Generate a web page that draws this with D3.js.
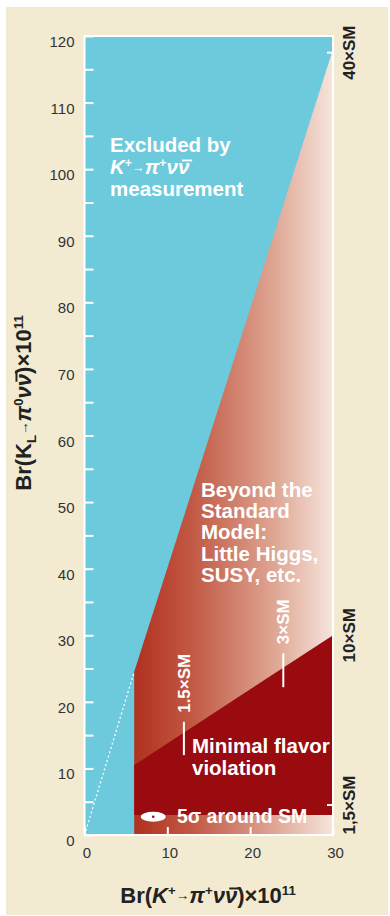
<!DOCTYPE html>
<html>
<head>
<meta charset="utf-8">
<script src="https://cdn.jsdelivr.net/npm/d3@7"></script>
<style>
  body { margin: 0; background: #fff; }
  svg { display: block; font-family: "Liberation Sans", Arial, Helvetica, sans-serif; }
</style>
</head>
<body>
<div id="chart"></div>
<script>
// values (units of 10^-11)
var xTicks = [0, 10, 20, 30];
var yTicks = [0, 5, 10, 15, 20, 25, 30, 35, 40, 45, 50, 55, 60, 65, 70, 75, 80, 85, 90, 95, 100, 105, 110, 115, 120];
var yLabels = [0, 10, 20, 30, 40, 50, 60, 70, 80, 90, 100, 110, 120];

// Grossman-Nir style bound, K+ measured lower limit at 6
var gnBound = [{x: 0, y: 0}, {x: 6, y: 24.5}, {x: 30, y: 118}];
var bsmRegion = [{x: 6, y: 0}, {x: 6, y: 24.5}, {x: 30, y: 118}, {x: 30, y: 0}];
var mfvRegion = [{x: 6, y: 3}, {x: 6, y: 10.5}, {x: 30, y: 30}, {x: 30, y: 3}];
var smPoint = {x: 8.3, y: 2.75, sx: 1.5, sy: 0.75};

// multiples of SM on the K+ axis (marks inside) and the KL axis (right side)
var kPlusMarks = [
  {label: "1.5\u00d7SM", x: 12, y0: 12, y1: 17},
  {label: "3\u00d7SM", x: 24, y0: 22.2, y1: 27.3}
];
var kLMarks = [
  {label: "40\u00d7SM", y: 117.5, tick: true},
  {label: "10\u00d7SM", y: 30, tick: false},
  {label: "1,5\u00d7SM", y: 4.5, tick: true}
];

var width = 390, height = 916;

var svg = d3.select("#chart")
  .append("svg")
    .attr("width", width)
    .attr("height", height);

var x = d3.scaleLinear().domain([0, 30]).range([84.5, 333]);
var y = d3.scaleLinear().domain([0, 120]).range([835, 36]);

// beige panel
svg.append("rect")
  .attr("x", 6).attr("y", 7)
  .attr("width", 382).attr("height", 908)
  .attr("fill", "#f2ebd2");

var defs = svg.append("defs");
var grad = defs.append("linearGradient")
  .attr("id", "bsmGrad")
  .attr("gradientUnits", "userSpaceOnUse")
  .attr("x1", x(6)).attr("x2", x(30))
  .attr("y1", 0).attr("y2", 0);
grad.append("stop").attr("offset", "0").attr("stop-color", "#b0311f");
grad.append("stop").attr("offset", "0.3").attr("stop-color", "#c25a45");
grad.append("stop").attr("offset", "0.7").attr("stop-color", "#dea592");
grad.append("stop").attr("offset", "1").attr("stop-color", "#f6e5dd");

// excluded region = whole plot in cyan, other regions on top
svg.append("rect")
  .attr("x", x(0)).attr("y", y(120))
  .attr("width", x(30) - x(0)).attr("height", y(0) - y(120))
  .attr("fill", "#6dcadc");

var area = d3.line().x(function(d) { return x(d.x); }).y(function(d) { return y(d.y); });

svg.append("path")
  .datum(bsmRegion)
  .attr("d", function(d) { return area(d) + "Z"; })
  .attr("fill", "url(#bsmGrad)");

svg.append("path")
  .datum(mfvRegion)
  .attr("d", function(d) { return area(d) + "Z"; })
  .attr("fill", "#9a0b10");

// dotted continuation of the bound down to the origin
svg.append("path")
  .datum(gnBound.slice(0, 2))
  .attr("d", area)
  .attr("fill", "none")
  .attr("stroke", "#fff")
  .attr("stroke-width", 1.3)
  .attr("stroke-dasharray", "2,2.5");

// axes
var yAxis = svg.append("g")
  .attr("transform", "translate(" + x(0) + ",0)")
  .call(d3.axisLeft(y)
    .tickValues(yTicks)
    .tickSize(-9)
    .tickSizeOuter(0)
    .tickPadding(10)
    .tickFormat(function(d) { return yLabels.indexOf(d) >= 0 ? d : ""; }));
yAxis.select(".domain").remove();
yAxis.selectAll("line").attr("stroke", "#fff").attr("stroke-width", 2);
yAxis.selectAll("text")
  .attr("fill", "#333")
  .attr("font-size", 15)
  .attr("dy", "0.7em");

var xAxis = svg.append("g")
  .attr("transform", "translate(0," + y(0) + ")")
  .call(d3.axisBottom(x)
    .tickValues(xTicks)
    .tickSize(-8)
    .tickSizeOuter(0)
    .tickPadding(12));
xAxis.select(".domain").remove();
xAxis.selectAll("line").attr("stroke", "#fff").attr("stroke-width", 2);
xAxis.selectAll("text")
  .attr("fill", "#333")
  .attr("font-size", 15)
  .attr("dx", 2);

// white frame
svg.append("rect")
  .attr("x", x(0)).attr("y", y(120))
  .attr("width", x(30) - x(0)).attr("height", y(0) - y(120))
  .attr("fill", "none")
  .attr("stroke", "#fff")
  .attr("stroke-width", 2);

// SM point
svg.append("ellipse")
  .attr("cx", x(smPoint.x)).attr("cy", y(smPoint.y))
  .attr("rx", x(smPoint.x + smPoint.sx) - x(smPoint.x))
  .attr("ry", y(smPoint.y - smPoint.sy) - y(smPoint.y))
  .attr("fill", "#fff");
svg.append("circle")
  .attr("cx", x(smPoint.x)).attr("cy", y(smPoint.y))
  .attr("r", 1.3)
  .attr("fill", "#9a0b10");

// K+ multiples of SM
kPlusMarks.forEach(function(m) {
  svg.append("line")
    .attr("x1", x(m.x)).attr("x2", x(m.x))
    .attr("y1", y(m.y0)).attr("y2", y(m.y1))
    .attr("stroke", "#fff")
    .attr("stroke-width", 2);
  svg.append("text")
    .attr("transform", "translate(" + x(m.x) + "," + (y(m.y1) - 9) + ") rotate(-90)")
    .attr("dy", "0.36em")
    .attr("fill", "#fff")
    .attr("font-size", 17)
    .attr("font-weight", "bold")
    .text(m.label);
});

// KL multiples of SM
kLMarks.forEach(function(m) {
  if (m.tick) {
    svg.append("line")
      .attr("x1", x(30) - 6).attr("x2", x(30))
      .attr("y1", y(m.y)).attr("y2", y(m.y))
      .attr("stroke", "#fff")
      .attr("stroke-width", 2);
  }
  svg.append("text")
    .attr("transform", "translate(349," + y(m.y) + ") rotate(-90)")
    .attr("dy", "0.36em")
    .attr("text-anchor", "middle")
    .attr("fill", "#222")
    .attr("font-size", 17)
    .attr("font-weight", "bold")
    .text(m.label);
});

// rich text helper: parts with sup / sub / italic / small / bar
// the bar (anti-neutrino) is drawn as a short line over the glyph
function rich(parent, sel, parts, size, color) {
  var shift = 0, idx = 0, bars = [];
  parts.forEach(function(p) {
    var target = p.sup ? -0.36 * size : p.sub ? 0.22 * size : p.small ? -0.12 * size : 0;
    var fs = p.sup || p.sub ? size * 0.6 : p.small ? size * 0.62 : size;
    sel.append("tspan")
      .attr("dy", target - shift)
      .attr("font-size", fs)
      .attr("font-style", p.i ? "italic" : null)
      .text(p.t);
    if (p.bar) bars.push(idx);
    idx += p.t.length;
    shift = target;
  });
  bars.forEach(function(i) {
    var n = sel.node();
    var a = n.getStartPositionOfChar(i), b = n.getEndPositionOfChar(i);
    var top = a.y - 0.66 * size;
    parent.append("line")
      .attr("transform", sel.attr("transform"))
      .attr("x1", a.x + 0.2 * size).attr("x2", b.x + 0.14 * size)
      .attr("y1", top).attr("y2", top)
      .attr("stroke", color)
      .attr("stroke-width", size * 0.09);
  });
}

function block(lines, x0, y0, lh, size) {
  lines.forEach(function(l, i) {
    var t = svg.append("text")
      .attr("x", x0).attr("y", y0 + i * lh)
      .attr("fill", "#fff")
      .attr("font-size", size)
      .attr("font-weight", "bold");
    if (typeof l === "string") t.text(l);
    else rich(svg, t, l, size, "#fff");
  });
}

block(["Excluded by",
  [{t: "K", i: true}, {t: "+", sup: true}, {t: "\u2192", small: true}, {t: "\u03c0", i: true}, {t: "+", sup: true}, {t: "\u03bd", i: true}, {t: "\u03bd", i: true, bar: true}],
  "measurement"], 110, 152, 22, 20.5);

block(["Beyond the", "Standard", "Model:", "Little Higgs,", "SUSY, etc."], 201, 497, 21.2, 20.5);

block(["Minimal flavor", "violation"], 192, 753, 22, 20.5);

svg.append("text")
  .attr("x", 177).attr("y", 823)
  .attr("fill", "#fff")
  .attr("font-size", 19.5)
  .attr("font-weight", "bold")
  .text("5\u03c3 around SM");

// axis titles
var xt = svg.append("text")
  .attr("x", 208).attr("y", 903)
  .attr("text-anchor", "middle")
  .attr("fill", "#222")
  .attr("font-size", 22)
  .attr("font-weight", "bold");
rich(svg, xt, [{t: "Br("}, {t: "K", i: true}, {t: "+", sup: true}, {t: "\u2192", small: true},
  {t: "\u03c0", i: true}, {t: "+", sup: true}, {t: "\u03bd", i: true}, {t: "\u03bd", i: true, bar: true},
  {t: ")\u00d710"}, {t: "11", sup: true}], 22, "#222");

var yt = svg.append("text")
  .attr("transform", "translate(31,403) rotate(-90)")
  .attr("dy", "0.36em")
  .attr("text-anchor", "middle")
  .attr("fill", "#222")
  .attr("font-size", 22)
  .attr("font-weight", "bold");
rich(svg, yt, [{t: "Br(K"}, {t: "L", sub: true}, {t: "\u2192", small: true},
  {t: "\u03c0", i: true}, {t: "0", sup: true}, {t: "\u03bd", i: true}, {t: "\u03bd", i: true, bar: true},
  {t: ")\u00d710"}, {t: "11", sup: true}], 22, "#222");
</script>
</body>
</html>
